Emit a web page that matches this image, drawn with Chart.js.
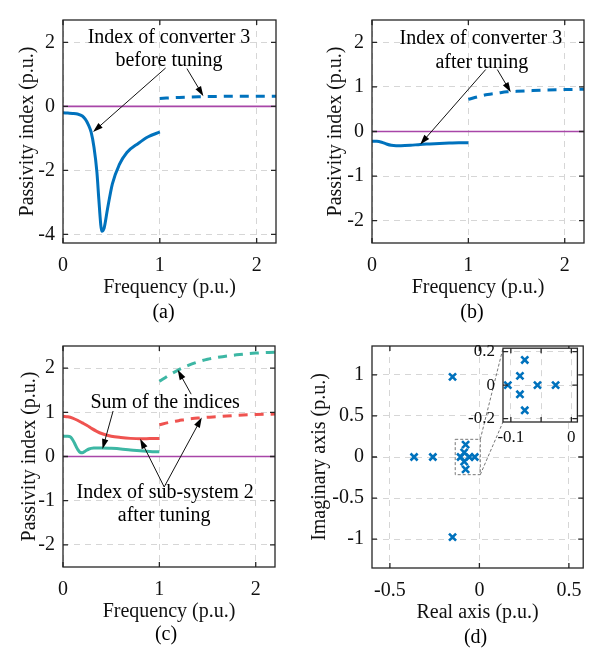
<!DOCTYPE html>
<html>
<head>
<meta charset="utf-8">
<script src="https://cdn.jsdelivr.net/npm/chart.js@4.4.1/dist/chart.umd.min.js"></script>
<style>
  html, body { margin: 0; padding: 0; background: #fff; }
  #wrap { position: relative; width: 593px; height: 652px; overflow: hidden; }
  canvas { position: absolute; }
</style>
</head>
<body>
<div id="wrap">
  <canvas id="pa" style="left:0;top:0" width="296" height="326"></canvas>
  <canvas id="pb" style="left:296px;top:0" width="297" height="326"></canvas>
  <canvas id="pc" style="left:0;top:326px" width="296" height="326"></canvas>
  <canvas id="pd" style="left:296px;top:326px" width="297" height="326"></canvas>
  <canvas id="pi" style="left:440px;top:330px" width="145" height="120"></canvas>
</div>
<script>
// ---- data ----
// (a) converter 3 before tuning
const aLowFreq = [0, 0.05, 0.1, 0.15, 0.2, 0.23, 0.26, 0.29, 0.32, 0.35, 0.37, 0.39, 0.40, 0.425, 0.46, 0.51, 0.58, 0.66, 0.78, 0.88, 1.0];
const aLowIdx  = [-0.2, -0.21, -0.22, -0.24, -0.3, -0.4, -0.56, -0.8, -1.28, -2.05, -2.9, -3.7, -3.9, -3.8, -3.2, -2.42, -1.83, -1.44, -1.15, -0.95, -0.8];
const aHighFreq = [1.0, 1.2, 1.4, 1.6, 1.8, 2.0, 2.2];
const aHighIdx  = [0.25, 0.28, 0.3, 0.31, 0.32, 0.32, 0.32];

// (b) converter 3 after tuning
const bLowFreq = [0, 0.05, 0.1, 0.15, 0.2, 0.25, 0.3, 0.4, 0.5, 0.6, 0.7, 0.8, 0.9, 1.0];
const bLowIdx  = [-0.22, -0.22, -0.24, -0.28, -0.31, -0.32, -0.32, -0.31, -0.29, -0.28, -0.27, -0.26, -0.25, -0.25];
const bHighFreq = [1.0, 1.1, 1.2, 1.3, 1.4, 1.5, 1.6, 1.8, 2.0, 2.2];
const bHighIdx  = [0.72, 0.78, 0.83, 0.86, 0.89, 0.9, 0.91, 0.93, 0.94, 0.95];

// (c) sub-system 2 after tuning (red) and sum of indices (teal)
const cSubLowFreq = [0, 0.05, 0.1, 0.15, 0.2, 0.25, 0.3, 0.35, 0.4, 0.5, 0.6, 0.7, 0.8, 0.9, 1.0];
const cSubLowIdx  = [0.91, 0.9, 0.87, 0.82, 0.76, 0.7, 0.63, 0.57, 0.52, 0.46, 0.43, 0.41, 0.40, 0.405, 0.41];
const cSubHighFreq = [1.0, 1.1, 1.2, 1.3, 1.4, 1.5, 1.6, 1.8, 2.0, 2.2];
const cSubHighIdx  = [0.72, 0.77, 0.81, 0.85, 0.87, 0.89, 0.9, 0.93, 0.95, 0.96];
const cSumLowFreq = [0, 0.05, 0.08, 0.1, 0.12, 0.15, 0.18, 0.2, 0.23, 0.27, 0.32, 0.4, 0.5, 0.6, 0.7, 0.8, 0.9, 1.0];
const cSumLowIdx  = [0.46, 0.46, 0.44, 0.38, 0.3, 0.17, 0.09, 0.085, 0.12, 0.17, 0.19, 0.195, 0.185, 0.17, 0.145, 0.13, 0.115, 0.105];
const cSumHighFreq = [1.0, 1.1, 1.2, 1.3, 1.4, 1.5, 1.6, 1.8, 2.0, 2.2];
const cSumHighIdx  = [1.7, 1.84, 1.96, 2.06, 2.14, 2.2, 2.24, 2.3, 2.34, 2.36];

// passivity boundary (index = 0)
const zeroFreq = [0, 2.2];
const zeroIdx  = [0, 0];

// (d) closed-loop poles
const poleRe = [-0.15, -0.15, -0.365, -0.26, -0.105, -0.085, -0.085, -0.077, -0.077, -0.056, -0.026];
const poleIm = [0.975, -0.975, 0, 0, 0, 0.055, -0.055, 0.15, -0.15, 0, 0];
const zoomRe = [-0.135, 0.005];
const zoomIm = [-0.215, 0.215];

// ticks
const freqTicks = [0, 1, 2];
const aIdxTicks = [-4, -2, 0, 2];
const bIdxTicks = [-2, -1, 0, 1, 2];
const reTicks = [-0.5, 0, 0.5];
const imTicks = [-1, -0.5, 0, 0.5, 1];
const insetReTicks = [-0.1, -0.05, 0];
const insetReLabels = ['-0.1', '', '0'];
const insetImTicks = [-0.2, 0, 0.2];

// ---- style ----
const FONT = 'Liberation Serif, "Times New Roman", serif';
const BLUE = '#0072bd';
const RED = '#ef5350';
const TEAL = '#3db7a4';
const MAGENTA = '#a846a8';
const GRID = '#d6d6d6';
const DASH = [9, 7];

function line(xs, ys, color, width, dash) {
  return {
    data: xs.map((x, i) => ({ x: x, y: ys[i] })),
    showLine: true,
    borderColor: color,
    borderWidth: width,
    borderDash: dash || [],
    pointRadius: 0,
    cubicInterpolationMode: 'monotone'
  };
}

function poles(xs, ys) {
  return {
    data: xs.map((x, i) => ({ x: x, y: ys[i] })),
    showLine: false,
    pointStyle: 'crossRot',
    pointRadius: 5,
    pointBorderWidth: 2.6,
    pointBorderColor: BLUE,
    borderColor: BLUE
  };
}

function axis(opts) {
  return {
    type: 'linear',
    position: opts.position,
    min: opts.min,
    max: opts.max,
    afterBuildTicks: s => { s.ticks = opts.ticks.map(v => ({ value: v })); },
    afterFit: s => {
      if (opts.position === 'left') s.width = opts.size;
      else s.height = opts.size;
    },
    ticks: {
      autoSkip: false,
      maxRotation: 0,
      padding: opts.pad,
      color: '#111',
      font: { family: FONT, size: opts.fontSize || 20 },
      callback: (v, i) => opts.labels ? opts.labels[i] : String(opts.ticks[i])
    },
    grid: { color: GRID, lineWidth: 1, drawTicks: false },
    border: { display: false, dash: [6, 5] },
    title: {
      display: !!opts.title,
      text: opts.title,
      color: '#111',
      font: { family: FONT, size: 20, lineHeight: 1.2 },
      padding: { top: opts.titlePad || 0, bottom: opts.titlePad || 0 }
    }
  };
}

// box with inward ticks like the original
const frame = {
  id: 'frame',
  afterDatasetsDraw(chart) {
    const { ctx, chartArea: ca, scales } = chart;
    ctx.save();
    ctx.strokeStyle = '#262626';
    ctx.lineWidth = 1.3;
    ctx.strokeRect(ca.left, ca.top, ca.right - ca.left, ca.bottom - ca.top);
    ctx.beginPath();
    scales.x.ticks.forEach(t => {
      const px = scales.x.getPixelForValue(t.value);
      ctx.moveTo(px, ca.bottom); ctx.lineTo(px, ca.bottom - 5);
      ctx.moveTo(px, ca.top); ctx.lineTo(px, ca.top + 5);
    });
    scales.y.ticks.forEach(t => {
      const py = scales.y.getPixelForValue(t.value);
      ctx.moveTo(ca.left, py); ctx.lineTo(ca.left + 5, py);
      ctx.moveTo(ca.right, py); ctx.lineTo(ca.right - 5, py);
    });
    ctx.stroke();
    ctx.restore();
  }
};

function drawArrow(ctx, x1, y1, x2, y2) {
  const ang = Math.atan2(y2 - y1, x2 - x1);
  const hl = 10, hw = 3.2;
  ctx.beginPath();
  ctx.moveTo(x1, y1);
  ctx.lineTo(x2 - Math.cos(ang) * hl * 0.8, y2 - Math.sin(ang) * hl * 0.8);
  ctx.stroke();
  ctx.beginPath();
  ctx.moveTo(x2, y2);
  ctx.lineTo(x2 - Math.cos(ang) * hl - Math.sin(ang) * hw, y2 - Math.sin(ang) * hl + Math.cos(ang) * hw);
  ctx.lineTo(x2 - Math.cos(ang) * hl + Math.sin(ang) * hw, y2 - Math.sin(ang) * hl - Math.cos(ang) * hw);
  ctx.closePath();
  ctx.fill();
}

// text labels / arrows in data coordinates, plus the (x) caption
function notes(items, caption, capDx, capY) {
  return {
    id: 'notes',
    afterDraw(chart) {
      const { ctx, chartArea: ca, scales: { x, y } } = chart;
      ctx.save();
      ctx.fillStyle = '#000';
      ctx.strokeStyle = '#111';
      ctx.lineWidth = 1;
      ctx.font = '20px ' + FONT;
      ctx.textAlign = 'center';
      ctx.textBaseline = 'middle';
      items.forEach(it => {
        if (it.text) {
          ctx.fillText(it.text, x.getPixelForValue(it.at[0]), y.getPixelForValue(it.at[1]));
        } else {
          drawArrow(ctx, x.getPixelForValue(it.from[0]), y.getPixelForValue(it.from[1]),
            x.getPixelForValue(it.to[0]), y.getPixelForValue(it.to[1]));
        }
      });
      ctx.fillText(caption, (ca.left + ca.right) / 2 + capDx, capY);
      ctx.restore();
    }
  };
}

function panel(id, cfg) {
  const cv = document.getElementById(id);
  const a = cfg.area;
  const xH = cfg.xH || 75;
  return new Chart(cv, {
    type: 'scatter',
    data: { datasets: cfg.datasets },
    options: {
      responsive: false,
      animation: false,
      events: [],
      layout: { padding: { left: cfg.padL, top: a.top, right: cv.width - a.right, bottom: cv.height - a.bottom - xH } },
      plugins: { legend: { display: false }, tooltip: { enabled: false } },
      scales: {
        x: axis({ position: 'bottom', min: cfg.x[0], max: cfg.x[1], ticks: cfg.xTicks, labels: cfg.xLabels,
          size: xH, pad: cfg.xPad || 11, title: cfg.xTitle, titlePad: 18, fontSize: cfg.fontSize }),
        y: axis({ position: 'left', min: cfg.y[0], max: cfg.y[1], ticks: cfg.yTicks, labels: cfg.yLabels,
          size: a.left - cfg.padL, pad: 8, title: cfg.yTitle, titlePad: cfg.yTitleX - cfg.padL - 12, fontSize: cfg.fontSize })
      }
    },
    plugins: [frame].concat(cfg.extra || [])
  });
}

const freqTitle = 'Frequency (p.u.)';
const idxTitle = 'Passivity index (p.u.)';

panel('pa', {
  area: { left: 63, top: 5, right: 276, bottom: 243 }, padL: 0, yTitleX: 28,
  x: [0, 2.2], y: [-4.27, 2.7], xTicks: freqTicks, yTicks: aIdxTicks,
  xTitle: freqTitle, yTitle: idxTitle,
  datasets: [
    line(aLowFreq, aLowIdx, BLUE, 3),
    line(aHighFreq, aHighIdx, BLUE, 3, DASH),
    line(zeroFreq, zeroIdx, MAGENTA, 1.6)
  ],
  extra: [notes([
    { text: 'Index of converter 3', at: [1.095, 2.14] },
    { text: 'before tuning', at: [1.095, 1.44] },
    { from: [1.06, 1.2], to: [0.31, -0.8] },
    { from: [1.28, 1.18], to: [1.45, 0.32] }
  ], '(a)', -6, 313)]
});

panel('pb', {
  area: { left: 76, top: 5, right: 288, bottom: 243 }, padL: 13, yTitleX: 40,
  x: [0, 2.2], y: [-2.5, 2.5], xTicks: freqTicks, yTicks: bIdxTicks,
  xTitle: freqTitle, yTitle: idxTitle,
  datasets: [
    line(bLowFreq, bLowIdx, BLUE, 3),
    line(bHighFreq, bHighIdx, BLUE, 3, DASH),
    line(zeroFreq, zeroIdx, MAGENTA, 1.6)
  ],
  extra: [notes([
    { text: 'Index of converter 3', at: [1.13, 2.08] },
    { text: 'after tuning', at: [1.14, 1.55] },
    { from: [1.18, 1.39], to: [0.5, -0.29] },
    { from: [1.3, 1.39], to: [1.44, 0.88] }
  ], '(b)', -6, 313)]
});

panel('pc', {
  area: { left: 63, top: 4, right: 275, bottom: 241 }, padL: 0, yTitleX: 30,
  x: [0, 2.2], y: [-2.5, 2.5], xTicks: freqTicks, yTicks: bIdxTicks,
  xTitle: freqTitle, yTitle: idxTitle,
  datasets: [
    line(cSubLowFreq, cSubLowIdx, RED, 3),
    line(cSubHighFreq, cSubHighIdx, RED, 3, DASH),
    line(cSumLowFreq, cSumLowIdx, TEAL, 3),
    line(cSumHighFreq, cSumHighIdx, TEAL, 3, DASH),
    line(zeroFreq, zeroIdx, MAGENTA, 1.6)
  ],
  extra: [notes([
    { text: 'Sum of the indices', at: [1.06, 1.22] },
    { from: [0.52, 1.03], to: [0.41, 0.17] },
    { from: [1.33, 1.41], to: [1.19, 1.96] },
    { text: 'Index of sub-system 2', at: [1.06, -0.82] },
    { text: 'after tuning', at: [1.05, -1.35] },
    { from: [1.05, -0.69], to: [0.8, 0.4] },
    { from: [1.05, -0.69], to: [1.44, 0.88] }
  ], '(c)', -3, 309)]
});

// inset first, so panel (d) can reach its corners
const inset = panel('pi', {
  area: { left: 63, top: 13, right: 139, bottom: 92 }, padL: 0, yTitleX: 0, xH: 28, xPad: 5, fontSize: 17,
  x: [-0.113, 0.01], y: [-0.22, 0.22], xTicks: insetReTicks, xLabels: insetReLabels, yTicks: insetImTicks,
  datasets: [poles(poleRe, poleIm)],
  extra: [{
    id: 'insetBg',
    beforeDraw(chart) {
      const ca = chart.chartArea;
      chart.ctx.save();
      chart.ctx.fillStyle = '#fff';
      chart.ctx.fillRect(ca.left, ca.top, ca.right - ca.left, ca.bottom - ca.top);
      chart.ctx.restore();
    }
  }]
});

const zoomBox = {
  id: 'zoomBox',
  afterDraw(chart) {
    const { ctx, scales: { x, y } } = chart;
    const l = x.getPixelForValue(zoomRe[0]), r = x.getPixelForValue(zoomRe[1]);
    const t = y.getPixelForValue(zoomIm[1]), b = y.getPixelForValue(zoomIm[0]);
    // inset corners in this canvas' coordinates
    const ia = inset.chartArea;
    const ox = 440 - 296, oy = 330 - 326;
    ctx.save();
    ctx.strokeStyle = '#777';
    ctx.lineWidth = 1;
    ctx.setLineDash([3, 2]);
    ctx.strokeRect(l, t, r - l, b - t);
    ctx.beginPath();
    ctx.moveTo(r, t); ctx.lineTo(ia.left + ox, ia.top + oy);
    ctx.moveTo(r, b); ctx.lineTo(ia.left + ox, ia.bottom + oy);
    ctx.stroke();
    ctx.restore();
  }
};

panel('pd', {
  area: { left: 76, top: 6, right: 288, bottom: 242 }, padL: 0, yTitleX: 24,
  x: [-0.6, 0.58], y: [-1.35, 1.35], xTicks: reTicks, yTicks: imTicks,
  xTitle: 'Real axis (p.u.)', yTitle: 'Imaginary axis (p.u.)',
  datasets: [poles(poleRe, poleIm)],
  extra: [zoomBox, notes([], '(d)', -2, 312)]
});
</script>
</body>
</html>
